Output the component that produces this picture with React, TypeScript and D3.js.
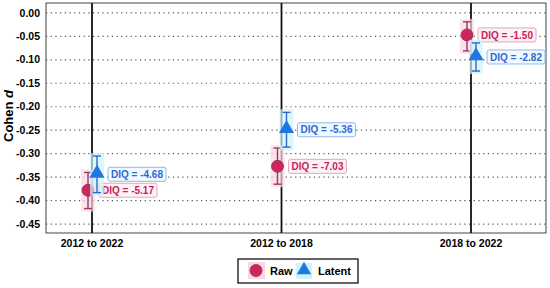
import React, { useEffect, useRef } from "react"
import * as d3 from "d3"

const categories = ["2012 to 2022", "2012 to 2018", "2018 to 2022"]
const rawValues = [-0.378, -0.327, -0.047]
const rawLower = [-0.417, -0.365, -0.081]
const rawUpper = [-0.340, -0.288, -0.019]
const latentValues = [-0.344, -0.249, -0.094]
const latentLower = [-0.383, -0.286, -0.124]
const latentUpper = [-0.305, -0.212, -0.064]
const rawLabels = ["DIQ = -5.17", "DIQ = -7.03", "DIQ = -1.50"]
const latentLabels = ["DIQ = -4.68", "DIQ = -5.36", "DIQ = -2.82"]
const yTicks = [0, -0.05, -0.1, -0.15, -0.2, -0.25, -0.3, -0.35, -0.4, -0.45]

const font = "Arial, 'Liberation Sans', sans-serif"

const series = [
  {
    name: "Raw",
    values: rawValues, lower: rawLower, upper: rawUpper, labels: rawLabels,
    dx: -4, fill: "#d0245c", stroke: "#8e2b50", bar: "#9b3a60", halo: "#fbd6e6",
    text: "#c81f58", boxStroke: "#e7a6c0", boxFill: "#fdf1f6", shape: "circle",
  },
  {
    name: "Latent",
    values: latentValues, lower: latentLower, upper: latentUpper, labels: latentLabels,
    dx: 5, fill: "#1f78e2", stroke: "#1f5fc0", bar: "#2e68cf", halo: "#cdf4fb",
    text: "#2a6bd4", boxStroke: "#94b8ea", boxFill: "#f1f8ff", shape: "triangle",
  },
]

export default function App() {
  const ref = useRef<SVGSVGElement>(null)

  useEffect(() => {
    const svg = d3.select(ref.current)
    svg.selectAll("*").remove()

    const left = 46, right = 546, top = 3, bottom = 233

    const x = d3.scalePoint<string>().domain(categories).range([92, 471])
    const y = d3.scaleLinear().domain([-0.469, 0.021]).range([bottom, top])

    // dotted grid
    svg.append("g")
      .selectAll("line")
      .data(yTicks)
      .join("line")
      .attr("x1", left).attr("x2", right)
      .attr("y1", d => y(d)).attr("y2", d => y(d))
      .attr("stroke", "#555")
      .attr("stroke-width", 1.2)
      .attr("stroke-dasharray", "1.2,3.5")

    svg.append("rect")
      .attr("x", left).attr("y", top)
      .attr("width", right - left).attr("height", bottom - top)
      .attr("fill", "none").attr("stroke", "#444").attr("stroke-width", 1)

    // category lines
    svg.append("g")
      .selectAll("line")
      .data(categories)
      .join("line")
      .attr("x1", d => x(d)!).attr("x2", d => x(d)!)
      .attr("y1", top).attr("y2", bottom)
      .attr("stroke", "#111").attr("stroke-width", 1.8)

    // y tick labels
    svg.append("g")
      .attr("font-family", font).attr("font-size", 10.5).attr("font-weight", "bold")
      .attr("text-anchor", "end")
      .selectAll("text")
      .data(yTicks)
      .join("text")
      .attr("x", 40).attr("y", d => y(d)).attr("dy", "0.35em")
      .text(d => d3.format(".2f")(d).replace("−", "-"))

    // x tick labels
    svg.append("g")
      .attr("font-family", font).attr("font-size", 10.5).attr("font-weight", "bold")
      .attr("text-anchor", "middle")
      .selectAll("text")
      .data(categories)
      .join("text")
      .attr("x", d => x(d)!).attr("y", 247)
      .text(d => d)

    // y axis title
    const title = svg.append("text")
      .attr("transform", `translate(13,${(top + bottom) / 2 - 2}) rotate(-90)`)
      .attr("font-family", font).attr("font-size", 13).attr("font-weight", "bold")
      .attr("text-anchor", "middle")
    title.append("tspan").text("Cohen ")
    title.append("tspan").attr("font-style", "italic").text("d")

    const tri = d3.symbol().type(d3.symbolTriangle).size(100)

    series.forEach(s => {
      const g = svg.append("g")
      categories.forEach((c, i) => {
        const cx = x(c)! + s.dx
        // halo
        g.append("rect")
          .attr("x", cx - 7).attr("y", y(s.upper[i]) - 3)
          .attr("width", 14).attr("height", y(s.lower[i]) - y(s.upper[i]) + 6)
          .attr("fill", s.halo).attr("opacity", 0.7)
        // error bar
        g.append("line")
          .attr("x1", cx).attr("x2", cx)
          .attr("y1", y(s.upper[i])).attr("y2", y(s.lower[i]))
          .attr("stroke", s.bar).attr("stroke-width", 1.4)
        ;[s.upper[i], s.lower[i]].forEach(v => {
          g.append("line")
            .attr("x1", cx - 4).attr("x2", cx + 4)
            .attr("y1", y(v)).attr("y2", y(v))
            .attr("stroke", s.bar).attr("stroke-width", 1.4)
        })
        // marker
        if (s.shape === "circle") {
          g.append("circle")
            .attr("cx", cx).attr("cy", y(s.values[i])).attr("r", 6)
            .attr("fill", s.fill).attr("stroke", s.stroke).attr("stroke-width", 0.8)
        } else {
          g.append("path")
            .attr("transform", `translate(${cx},${y(s.values[i]) - 1})`)
            .attr("d", tri)
            .attr("fill", s.fill)
        }
        // DIQ label
        const bx = cx + 11, by = y(s.values[i])
        g.append("rect")
          .attr("x", bx).attr("y", by - 7)
          .attr("width", 58).attr("height", 14).attr("rx", 2)
          .attr("fill", s.boxFill).attr("stroke", s.boxStroke).attr("stroke-width", 1)
        g.append("text")
          .attr("x", bx + 29).attr("y", by).attr("dy", "0.36em")
          .attr("text-anchor", "middle")
          .attr("font-family", font).attr("font-size", 10).attr("font-weight", "bold")
          .attr("fill", s.text)
          .text(s.labels[i])
      })
    })

    // legend
    const lg = svg.append("g")
    lg.append("rect")
      .attr("x", 238).attr("y", 259).attr("width", 120).attr("height", 24)
      .attr("fill", "white").attr("stroke", "#111").attr("stroke-width", 1.3)
    lg.append("rect").attr("x", 248).attr("y", 262).attr("width", 17).attr("height", 17).attr("fill", series[0].halo)
    lg.append("circle").attr("cx", 256).attr("cy", 270.5).attr("r", 6)
      .attr("fill", series[0].fill).attr("stroke", series[0].stroke).attr("stroke-width", 0.8)
    lg.append("rect").attr("x", 296).attr("y", 263).attr("width", 16).attr("height", 16).attr("fill", series[1].halo)
    lg.append("path").attr("transform", "translate(304,270)")
      .attr("d", d3.symbol().type(d3.symbolTriangle).size(90)()).attr("fill", series[1].fill)
    lg.append("g")
      .attr("font-family", font).attr("font-size", 11).attr("font-weight", "bold")
      .selectAll("text")
      .data([{ t: "Raw", x: 270 }, { t: "Latent", x: 318 }])
      .join("text")
      .attr("x", d => d.x).attr("y", 271).attr("dy", "0.35em")
      .text(d => d.t)
  }, [])

  return (
    <svg ref={ref} width={550} height={288}
      style={{ position: "absolute", left: 0, top: 0, background: "white" }} />
  )
}
